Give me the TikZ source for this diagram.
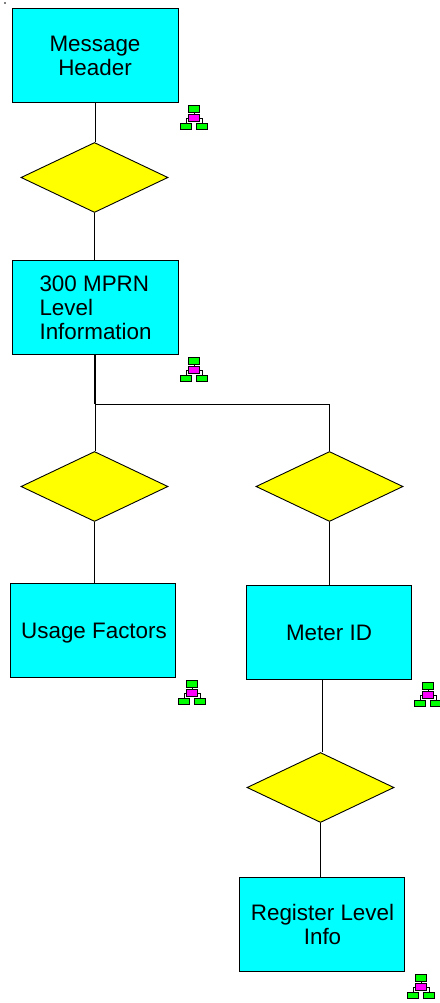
\documentclass[tikz,border=0pt]{standalone}
\usepackage{fontspec}
\setmainfont{Liberation Sans}
\usetikzlibrary{shapes.geometric,positioning}
\definecolor{boxcyan}{RGB}{0,255,255}
\definecolor{diayellow}{RGB}{255,255,0}
\definecolor{icongreen}{RGB}{0,255,0}
\definecolor{iconpink}{RGB}{255,0,255}
\tikzset{x=1pt, y=-1pt, % one unit is one pixel of the layout, going down
every node/.style={font=\fontsize{22.4}{24}\selectfont},
infobox/.style={draw, line width=0.9pt, fill=boxcyan, minimum width=165pt, minimum height=94pt, inner sep=0pt, align=center}, % the message groups
choice/.style={draw, line width=0.9pt, fill=diayellow, shape=diamond, minimum width=147pt, minimum height=70pt, inner sep=0pt}, % the empty diamonds
link/.style={line width=0.8pt},
iconbox/.style={draw, line width=0.9pt, minimum width=10.5pt, minimum height=6.5pt, inner sep=0pt},
pics/orgicon/.style={code={
\node[iconbox, fill=iconpink] (-m) at (0,0) {};
\node[iconbox, fill=icongreen] (-t) at (0,-9) {};
\node[iconbox, fill=icongreen] (-l) at (-8,8.5) {};
\node[iconbox, fill=icongreen] (-r) at (8,8.5) {};
\draw[line width=0.9pt] (-t) -- (-m);
\draw[line width=0.9pt] (-m.west) -| (-l.north);
\draw[line width=0.9pt] (-m.east) -| (-r.north);
}},
}
\begin{document}
\begin{tikzpicture}
\useasboundingbox (0,0) rectangle (439,1003);
\node[infobox, minimum width=166pt] (header) at (95,55) {};
\node (headertext) at (95,56) [align=center] {Message\\Header};
\node[choice] (d1) at (94.5,177.5) {};
\node[infobox, minimum width=166pt] (mprn) at (95,307.5) {};
\node[anchor=west, align=left] (mprntext) at (36,307.5) {300 MPRN\\Level\\Information};
\node[choice] (d2) at (94.5,486.5) {};
\node[choice] (d3) at (329.5,486.5) {};
\node[infobox] (usage) at (92.5,630) {};
\node (usagetext) at (94,633.5) {Usage Factors};
\node[infobox] (meter) at (329,632) {};
\node (metertext) at (329,633) {Meter ID};
\node[choice] (d4) at (320.5,787.5) {};
\node[infobox] (register) at (321.5,924) {};
\node (registertext) at (322.5,924.5) [align=center] {Register Level\\Info};
\coordinate (split) at (95,404);
\draw[link] (header.south) -- (header.south |- d1.north);
\draw[link] (d1.south) -- (d1.south |- mprn.north);
\draw[link, line width=1.3pt] (mprn.south) -- (split);
\draw[link] (split) -- (split |- d2.north);
\draw[link] (split) -| (d3.north);
\draw[link] (d2.south) -- (d2.south |- usage.north);
\draw[link] (d3.south) -- (d3.south |- meter.north);
\draw[link] (322,0 |- meter.south) -- (322,0 |- d4.north);
\draw[link] (d4.south) -- (d4.south |- register.north);
\pic (i1) at (194,118) {orgicon};
\pic (i2) at (194,370) {orgicon};
\pic (i3) at (192,693) {orgicon};
\pic (i4) at (428,695) {orgicon};
\pic (i5) at (421,987) {orgicon};
\fill[gray] (4,2.5) rectangle (6,4);
\end{tikzpicture}
\end{document}
